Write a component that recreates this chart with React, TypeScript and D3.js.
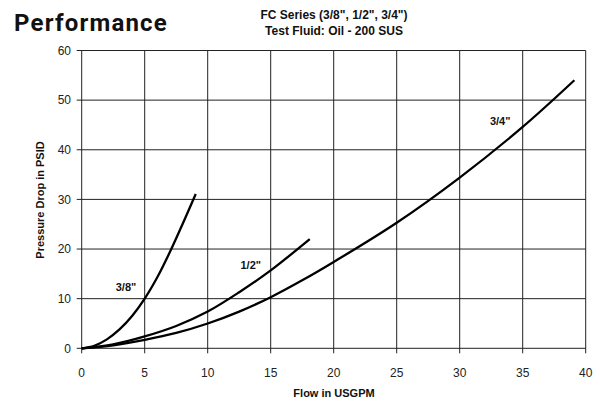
import React from "react";
import * as d3 from "d3";

const xTicks = [0, 5, 10, 15, 20, 25, 30, 35, 40];
const yTicks = [0, 10, 20, 30, 40, 50, 60];

const flow38 = [0, 1, 2, 3, 4, 5, 6, 7, 8, 9.05];
const psid38 = [0, 0.5, 1.8, 3.8, 6.5, 10, 14.3, 19.4, 25, 31.1];

const flow12 = [0, 2.5, 5, 7.5, 10, 12.5, 15, 18.1];
const psid12 = [0, 0.8, 2.4, 4.5, 7.4, 11.3, 15.7, 22];

const flow34 = [0, 2.5, 5, 7.5, 10, 12.5, 15, 17.5, 20, 25, 30, 35, 39.1];
const psid34 = [0, 0.6, 1.7, 3.1, 5.0, 7.4, 10.3, 13.7, 17.4, 25.3, 34.4, 44.6, 54];

const seriesLabels = ['3/8"', '1/2"', '3/4"'];
const labelAt: [number, number][] = [[2.7, 11.5], [12.6, 16], [32.4, 45]];

export default function App() {
  const width = 600, height = 403;
  const x = d3.scaleLinear().domain([0, 40]).range([81.7, 585.7]);
  const y = d3.scaleLinear().domain([0, 60]).range([348.3, 50.5]);
  const line = d3
    .line<[number, number]>()
    .x((d) => x(d[0]))
    .y((d) => y(d[1]))
    .curve(d3.curveCatmullRom.alpha(0.5));
  const series = [
    d3.zip(flow38, psid38) as [number, number][],
    d3.zip(flow12, psid12) as [number, number][],
    d3.zip(flow34, psid34) as [number, number][],
  ];
  const font = "'Liberation Sans', Arial, sans-serif";
  return (
    <svg
      width={width}
      height={height}
      style={{ position: "absolute", left: 0, top: 0, background: "#fff" }}
    >
      <text x={14} y={30.5} fontFamily="Roboto, sans-serif" fontWeight="bold" fontSize={24} letterSpacing={1.2} fill="#111">
        Performance
      </text>
      <text x={334} y={19} textAnchor="middle" fontFamily={font} fontWeight="bold" fontSize={12} fill="#111">
        FC Series (3/8", 1/2", 3/4")
      </text>
      <text x={334} y={35} textAnchor="middle" fontFamily={font} fontWeight="bold" fontSize={12} fill="#111">
        Test Fluid: Oil - 200 SUS
      </text>
      {xTicks.map((t) => (
        <g key={"x" + t}>
          <line x1={x(t)} x2={x(t)} y1={y(60)} y2={y(0) + 5} stroke="#222" strokeWidth={1} />
          <text x={x(t)} y={376.5} textAnchor="middle" fontFamily={font} fontSize={12} fill="#222">
            {t}
          </text>
        </g>
      ))}
      {yTicks.map((t) => (
        <g key={"y" + t}>
          <line x1={x(0) - 5} x2={x(40)} y1={y(t)} y2={y(t)} stroke="#222" strokeWidth={1} />
          <text x={71} y={y(t) + 4.2} textAnchor="end" fontFamily={font} fontSize={12} fill="#222">
            {t}
          </text>
        </g>
      ))}
      {series.map((s, i) => (
        <path key={i} d={line(s) || ""} fill="none" stroke="#000" strokeWidth={2.3} />
      ))}
      {seriesLabels.map((l, i) => (
        <text key={l} x={x(labelAt[i][0])} y={y(labelAt[i][1])} fontFamily={font} fontWeight="bold" fontSize={11} fill="#111">
          {l}
        </text>
      ))}
      <text x={334} y={397} textAnchor="middle" fontFamily={font} fontWeight="bold" fontSize={11} fill="#111">
        Flow in USGPM
      </text>
      <text
        transform={`translate(44,200) rotate(-90)`}
        textAnchor="middle"
        fontFamily={font}
        fontWeight="bold"
        fontSize={11}
        fill="#111"
      >
        Pressure Drop in PSID
      </text>
    </svg>
  );
}
